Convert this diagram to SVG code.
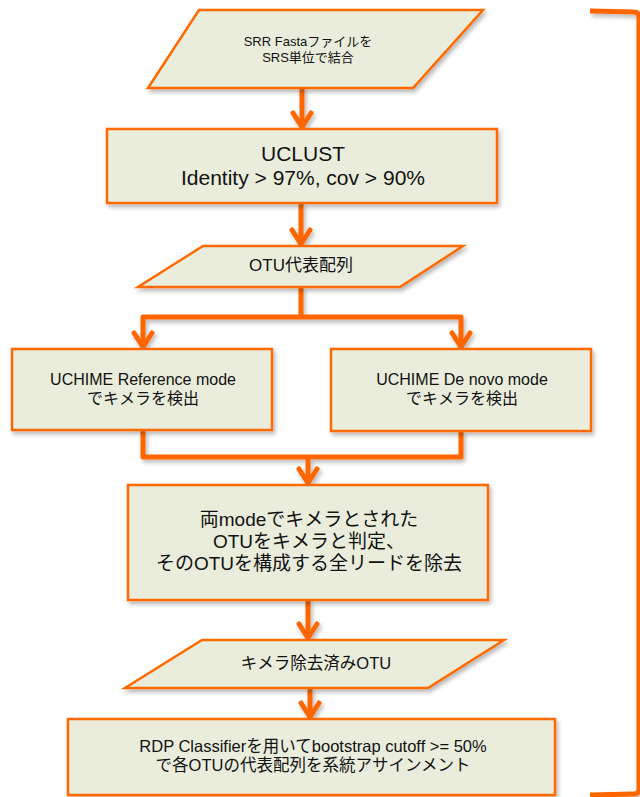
<svg xmlns="http://www.w3.org/2000/svg" width="640" height="797" viewBox="0 0 640 797">
<style>
.box{fill:#EAEDDC;stroke:#FF6A00;stroke-width:2.5;filter:url(#sh)}
.t{font-family:"Liberation Sans","Noto Sans CJK JP",sans-serif;fill:#111;text-anchor:middle}
.c{fill:none;stroke:#FF6600;stroke-width:5;stroke-linejoin:round}
.br{fill:none;stroke:#FF6600;stroke-width:5;stroke-linejoin:round;filter:url(#sh)}
</style>
<defs>
<filter id="sh" x="-10%" y="-10%" width="130%" height="140%">
<feDropShadow dx="2" dy="3" stdDeviation="2" flood-color="#000" flood-opacity="0.28"/>
</filter>
<marker id="ah" markerUnits="userSpaceOnUse" markerWidth="24" markerHeight="24" refX="0" refY="0" orient="auto" overflow="visible">
<path d="M-16,-9 L-2,0 L-16,9" fill="none" stroke="#FF6600" stroke-width="5" stroke-linecap="round" stroke-linejoin="round"/>
</marker>
</defs>
<rect width="640" height="797" fill="#fff"/>
<g id="connectors" filter="url(#sh)">
<path class="c" d="M302,88 L302,129" marker-end="url(#ah)"/>
<path class="c" d="M301,203 L301,246" marker-end="url(#ah)"/>
<path class="c" d="M301,287 L301,317"/>
<path class="c" d="M301,317 L143,317 L143,349" marker-end="url(#ah)"/>
<path class="c" d="M301,317 L461,317 L461,349" marker-end="url(#ah)"/>
<path class="c" d="M143,430 L143,457 L461,457 L461,431"/>
<path class="c" d="M308,457 L308,485" marker-end="url(#ah)"/>
<path class="c" d="M308,600 L308,640" marker-end="url(#ah)"/>
<path class="c" d="M310,688 L310,719" marker-end="url(#ah)"/>
</g>
<g id="n1">
<polygon class="box" points="199,10 483,10 413,88 148,88"/>
<text class="t" font-size="13" x="308" y="46">SRR Fastaファイルを</text>
<text class="t" font-size="13" x="308" y="62">SRS単位で結合</text>
</g>
<g id="n2">
<rect class="box" x="107" y="129" width="390" height="74"/>
<text class="t" font-size="21" x="303" y="161">UCLUST</text>
<text class="t" font-size="21" x="303" y="185">Identity &gt; 97%, cov &gt; 90%</text>
</g>
<g id="n3">
<polygon class="box" points="203,246 463,246 400,287 138,287"/>
<text class="t" font-size="17" x="301" y="271">OTU代表配列</text>
</g>
<g id="n4">
<rect class="box" x="12" y="349" width="260" height="81"/>
<text class="t" font-size="16" x="143" y="385">UCHIME Reference mode</text>
<text class="t" font-size="16" x="143" y="404">でキメラを検出</text>
</g>
<g id="n5">
<rect class="box" x="331" y="349" width="260" height="82"/>
<text class="t" font-size="16" x="462" y="385">UCHIME De novo mode</text>
<text class="t" font-size="16" x="462" y="404">でキメラを検出</text>
</g>
<g id="n6">
<rect class="box" x="128" y="485" width="360" height="115"/>
<text class="t" font-size="19" x="309" y="526">両modeでキメラとされた</text>
<text class="t" font-size="19" x="309" y="548">OTUをキメラと判定、</text>
<text class="t" font-size="19" x="309" y="570">そのOTUを構成する全リードを除去</text>
</g>
<g id="n7">
<polygon class="box" points="202,640 504,640 428,688 125,688"/>
<text class="t" font-size="16.5" x="316" y="669">キメラ除去済みOTU</text>
</g>
<g id="n8">
<rect class="box" x="68" y="719" width="487" height="76"/>
<text class="t" font-size="16.5" x="313" y="752">RDP Classifierを用いてbootstrap cutoff &gt;= 50%</text>
<text class="t" font-size="16.5" x="313" y="771">で各OTUの代表配列を系統アサインメント</text>
</g>
<g id="bracket">
<path class="br" d="M590,11 L634,12 Q639,12 639,17 L639,789 Q639,794 634,794 L590,795"/>
</g>
</svg>
